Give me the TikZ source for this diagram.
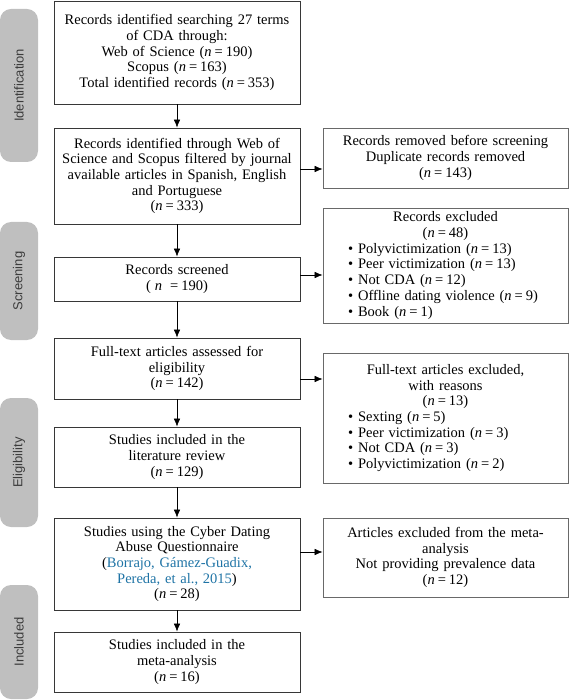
\documentclass[tikz,border=0pt]{standalone}
\usepackage{fontspec}
\setmainfont{Liberation Serif}
\setsansfont{Liberation Sans}
\usepackage{tikz}
\usetikzlibrary{arrows.meta,positioning}
\definecolor{phase}{RGB}{191,191,191}
\definecolor{phasetext}{RGB}{60,60,60}
\definecolor{boxline}{RGB}{55,55,55}
\definecolor{sideline}{RGB}{105,105,105}
\definecolor{citeblue}{RGB}{30,115,165}
\newcommand{\nn}[1]{(\textit{n}\hspace{3pt}=\hspace{3pt}#1)}
\newcommand{\bitem}[1]{\makebox[239pt][l]{\hspace{22pt}\textbullet\hspace{5pt}#1}}

\begin{document}
\begin{tikzpicture}[x=1pt, y=-1pt, >={Latex[length=8pt,width=6.5pt]},
    phasebar/.style={fill=phase, rounded corners=11pt, minimum height=38pt,
        inner sep=0pt, rotate=90, text=phasetext,
        font=\sffamily\fontsize{13}{15}\selectfont},
    mainbox/.style={draw=boxline, line width=0.8pt, text width=240pt,
        inner xsep=3pt, inner ysep=0pt, align=center,
        font=\fontsize{14.5}{15.7}\selectfont},
    sidebox/.style={draw=sideline, line width=0.8pt, text width=239pt,
        inner xsep=3pt, inner ysep=0pt, align=center,
        font=\fontsize{14.5}{15.7}\selectfont},
    arr/.style={->, line width=0.6pt}]

    \useasboundingbox (0,0) rectangle (569,700);

    % Phases (bandeaux gris a gauche)
    \node[phasebar, minimum width=153pt] (pid) at (19,85.5) {Identification};
    \node[phasebar, minimum width=118pt] (psc) at (19,281) {Screening};
    \node[phasebar, minimum width=129pt] (pel) at (19,462.5) {Eligibility};
    \node[phasebar, minimum width=114pt] (pin) at (19,642) {Included};

    % Colonne principale
    \node[mainbox, minimum height=103pt] (ident) at (177,52.5) {
        Records identified searching 27 terms\\
        of CDA through:\\
        Web of Science \nn{190}\\
        Scopus \nn{163}\\
        Total identified records \nn{353}};
    \node[mainbox, minimum height=96pt] (filt) at (177,176) {
        Records identified through Web of\\
        Science and Scopus filtered by journal\\
        available articles in Spanish, English\\
        and Portuguese\\
        \nn{333}};
    \node[mainbox, minimum height=44pt] (scr) at (177,279) {
        Records screened\\
        (\hspace{4pt}\textit{n}\hspace{8pt}=\hspace{3pt}190)};
    \node[mainbox, minimum height=61pt] (full) at (177,368.5) {
        Full-text articles assessed for\\
        eligibility\\
        \nn{142}};
    \node[mainbox, minimum height=60pt] (lit) at (177,457) {
        Studies included in the\\
        literature review\\
        \nn{129}};
    \node[mainbox, minimum height=92pt] (cdaq) at (177,564) {
        Studies using the Cyber Dating\\
        Abuse Questionnaire\\
        (\textcolor{citeblue}{Borrajo, G\'amez-Guadix,}\\
        \textcolor{citeblue}{Pereda, et al., 2015})\\
        \nn{28}};
    \node[mainbox, minimum height=60pt] (meta) at (177,662) {
        Studies included in the\\
        meta-analysis\\
        \nn{16}};

    % Colonne des exclusions
    \node[sidebox, minimum height=60pt] (dup) at (445.5,158) {
        Records removed before screening\\
        Duplicate records removed\\
        \nn{143}};
    \node[sidebox, minimum height=115pt] (exc) at (445.5,265.5) {
        Records excluded\\
        \nn{48}\\
        \bitem{Polyvictimization \nn{13}}\\
        \bitem{Peer victimization \nn{13}}\\
        \bitem{Not CDA \nn{12}}\\
        \bitem{Offline dating violence \nn{9}}\\
        \bitem{Book \nn{1}}};
    \node[sidebox, minimum height=130pt] (ftx) at (445.5,418) {
        Full-text articles excluded,\\
        with reasons\\
        \nn{13}\\
        \bitem{Sexting \nn{5}}\\
        \bitem{Peer victimization \nn{3}}\\
        \bitem{Not CDA \nn{3}}\\
        \bitem{Polyvictimization \nn{2}}};
    \node[sidebox, minimum height=79pt] (noprev) at (445.5,557.5) {
        Articles excluded from the meta-\\
        analysis\\
        Not providing prevalence data\\
        \nn{12}};

    % Fleches verticales
    \draw[arr] (ident) -- (filt);
    \draw[arr] (filt) -- (scr);
    \draw[arr] (scr) -- (full);
    \draw[arr] (full) -- (lit);
    \draw[arr] (lit) -- (cdaq);
    \draw[arr] (cdaq) -- (meta);

    % Fleches horizontales
    \coordinate (h1) at (0,169);
    \coordinate (h2) at (0,275);
    \coordinate (h3) at (0,379);
    \coordinate (h4) at (0,552);
    \draw[arr] (filt.east |- h1) -- (dup.west |- h1);
    \draw[arr] (scr.east |- h2) -- (exc.west |- h2);
    \draw[arr] (full.east |- h3) -- (ftx.west |- h3);
    \draw[arr] (cdaq.east |- h4) -- (noprev.west |- h4);

\end{tikzpicture}
\end{document}
